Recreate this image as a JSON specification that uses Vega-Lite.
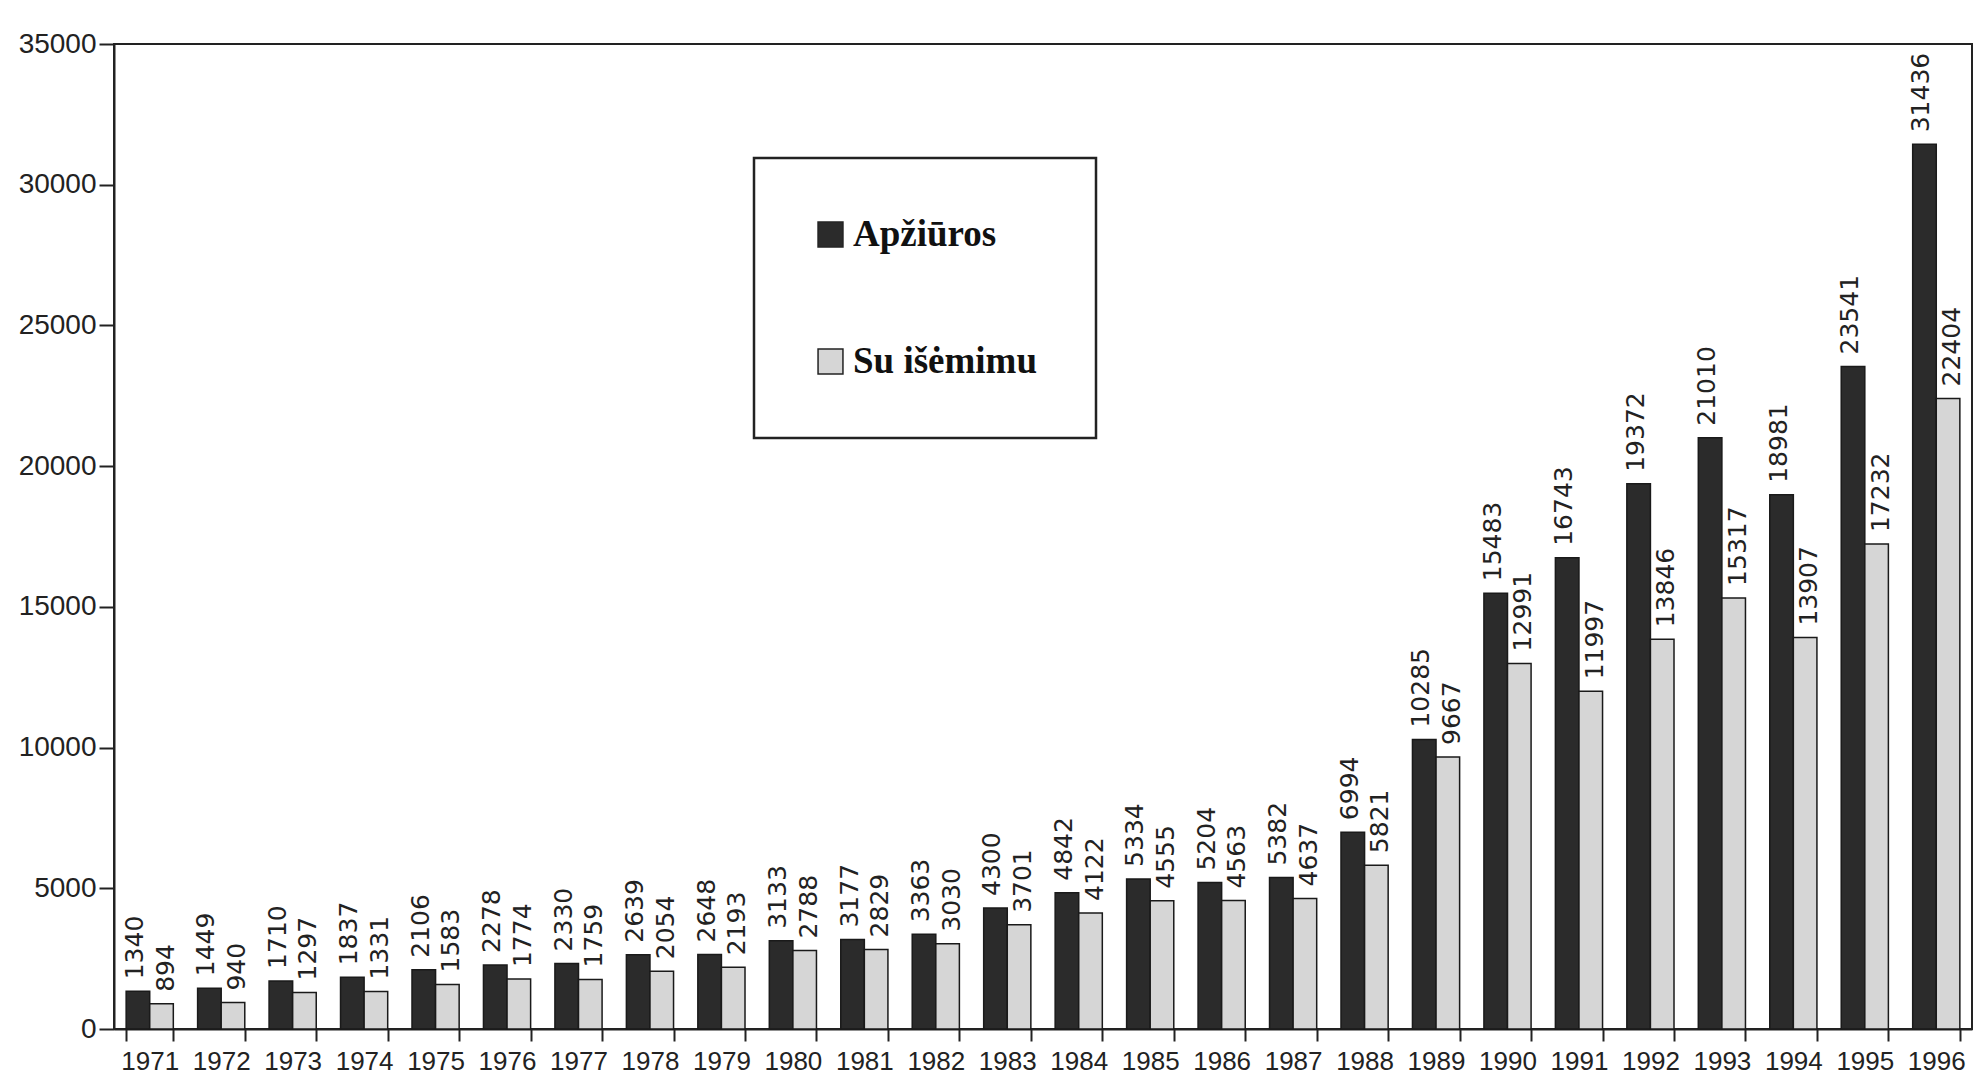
{
  "$schema": "https://vega.github.io/schema/vega-lite/v6.json",
  "width": 1858,
  "height": 985,
  "autosize": "none",
  "padding": {"left": 114, "top": 44, "right": 8, "bottom": 55},
  "background": "white",
  "config": {
    "view": {"stroke": "#222", "strokeWidth": 2},
    "axis": {"domainColor": "#222", "domainWidth": 2, "tickColor": "#222", "tickWidth": 2, "labelColor": "#222", "grid": false, "title": null}
  },
  "data": {"values": [
    {"year": "1971", "series": "Apžiūros", "value": 1340}, {"year": "1971", "series": "Su išėmimu", "value": 894},
    {"year": "1972", "series": "Apžiūros", "value": 1449}, {"year": "1972", "series": "Su išėmimu", "value": 940},
    {"year": "1973", "series": "Apžiūros", "value": 1710}, {"year": "1973", "series": "Su išėmimu", "value": 1297},
    {"year": "1974", "series": "Apžiūros", "value": 1837}, {"year": "1974", "series": "Su išėmimu", "value": 1331},
    {"year": "1975", "series": "Apžiūros", "value": 2106}, {"year": "1975", "series": "Su išėmimu", "value": 1583},
    {"year": "1976", "series": "Apžiūros", "value": 2278}, {"year": "1976", "series": "Su išėmimu", "value": 1774},
    {"year": "1977", "series": "Apžiūros", "value": 2330}, {"year": "1977", "series": "Su išėmimu", "value": 1759},
    {"year": "1978", "series": "Apžiūros", "value": 2639}, {"year": "1978", "series": "Su išėmimu", "value": 2054},
    {"year": "1979", "series": "Apžiūros", "value": 2648}, {"year": "1979", "series": "Su išėmimu", "value": 2193},
    {"year": "1980", "series": "Apžiūros", "value": 3133}, {"year": "1980", "series": "Su išėmimu", "value": 2788},
    {"year": "1981", "series": "Apžiūros", "value": 3177}, {"year": "1981", "series": "Su išėmimu", "value": 2829},
    {"year": "1982", "series": "Apžiūros", "value": 3363}, {"year": "1982", "series": "Su išėmimu", "value": 3030},
    {"year": "1983", "series": "Apžiūros", "value": 4300}, {"year": "1983", "series": "Su išėmimu", "value": 3701},
    {"year": "1984", "series": "Apžiūros", "value": 4842}, {"year": "1984", "series": "Su išėmimu", "value": 4122},
    {"year": "1985", "series": "Apžiūros", "value": 5334}, {"year": "1985", "series": "Su išėmimu", "value": 4555},
    {"year": "1986", "series": "Apžiūros", "value": 5204}, {"year": "1986", "series": "Su išėmimu", "value": 4563},
    {"year": "1987", "series": "Apžiūros", "value": 5382}, {"year": "1987", "series": "Su išėmimu", "value": 4637},
    {"year": "1988", "series": "Apžiūros", "value": 6994}, {"year": "1988", "series": "Su išėmimu", "value": 5821},
    {"year": "1989", "series": "Apžiūros", "value": 10285}, {"year": "1989", "series": "Su išėmimu", "value": 9667},
    {"year": "1990", "series": "Apžiūros", "value": 15483}, {"year": "1990", "series": "Su išėmimu", "value": 12991},
    {"year": "1991", "series": "Apžiūros", "value": 16743}, {"year": "1991", "series": "Su išėmimu", "value": 11997},
    {"year": "1992", "series": "Apžiūros", "value": 19372}, {"year": "1992", "series": "Su išėmimu", "value": 13846},
    {"year": "1993", "series": "Apžiūros", "value": 21010}, {"year": "1993", "series": "Su išėmimu", "value": 15317},
    {"year": "1994", "series": "Apžiūros", "value": 18981}, {"year": "1994", "series": "Su išėmimu", "value": 13907},
    {"year": "1995", "series": "Apžiūros", "value": 23541}, {"year": "1995", "series": "Su išėmimu", "value": 17232},
    {"year": "1996", "series": "Apžiūros", "value": 31436}, {"year": "1996", "series": "Su išėmimu", "value": 22404}
  ]},
  "encoding": {
    "x": {
      "field": "year", "type": "ordinal",
      "scale": {"paddingInner": 0.34, "paddingOuter": 0.17},
      "axis": {"labelAngle": 0, "tickBand": "extent", "tickSize": 12, "labelPadding": 7, "labelFont": "Liberation Sans", "labelFontSize": 26, "labelBaseline": "top"}
    },
    "xOffset": {"field": "series", "type": "nominal", "sort": ["Apžiūros", "Su išėmimu"]},
    "y": {
      "field": "value", "type": "quantitative",
      "scale": {"domain": [0, 35000], "nice": false},
      "axis": {"values": [0, 5000, 10000, 15000, 20000, 25000, 30000, 35000], "format": "d", "tickSize": 15, "labelPadding": 3, "labelFont": "Liberation Sans", "labelFontSize": 28}
    }
  },
  "layer": [
    {
      "mark": {"type": "bar", "stroke": "#1a1a1a", "strokeWidth": 1.5},
      "encoding": {
        "color": {
          "field": "series", "type": "nominal",
          "sort": ["Apžiūros", "Su išėmimu"],
          "scale": {"range": ["#2b2b2b", "#d6d6d6"]},
          "legend": {
            "title": null, "orient": "none", "legendX": 640, "legendY": 114,
            "strokeColor": "#222", "padding": 58, "rowPadding": 89,
            "symbolType": "square", "symbolSize": 620, "symbolStrokeColor": "#222", "symbolStrokeWidth": 1.5,
            "labelFont": "Liberation Serif", "labelFontWeight": "bold", "labelFontSize": 37, "labelColor": "#111", "labelOffset": 4, "labelLimit": 600,
            "fillColor": "white",
            "encode": {"legend": {"update": {"strokeWidth": {"value": 2.5}}}}
          }
        }
      }
    },
    {
      "transform": [{"filter": "datum.series === 'Apžiūros'"}],
      "mark": {"type": "text", "angle": 270, "align": "left", "baseline": "middle", "dx": 12, "dy": -3, "font": "DejaVu Sans", "fontSize": 25, "color": "#222"},
      "encoding": {"text": {"field": "value", "type": "quantitative", "format": "d"}}
    },
    {
      "transform": [{"filter": "datum.series === 'Su išėmimu'"}],
      "mark": {"type": "text", "angle": 270, "align": "left", "baseline": "middle", "dx": 12, "dy": 4, "font": "DejaVu Sans", "fontSize": 25, "color": "#222"},
      "encoding": {"text": {"field": "value", "type": "quantitative", "format": "d"}}
    }
  ]
}
